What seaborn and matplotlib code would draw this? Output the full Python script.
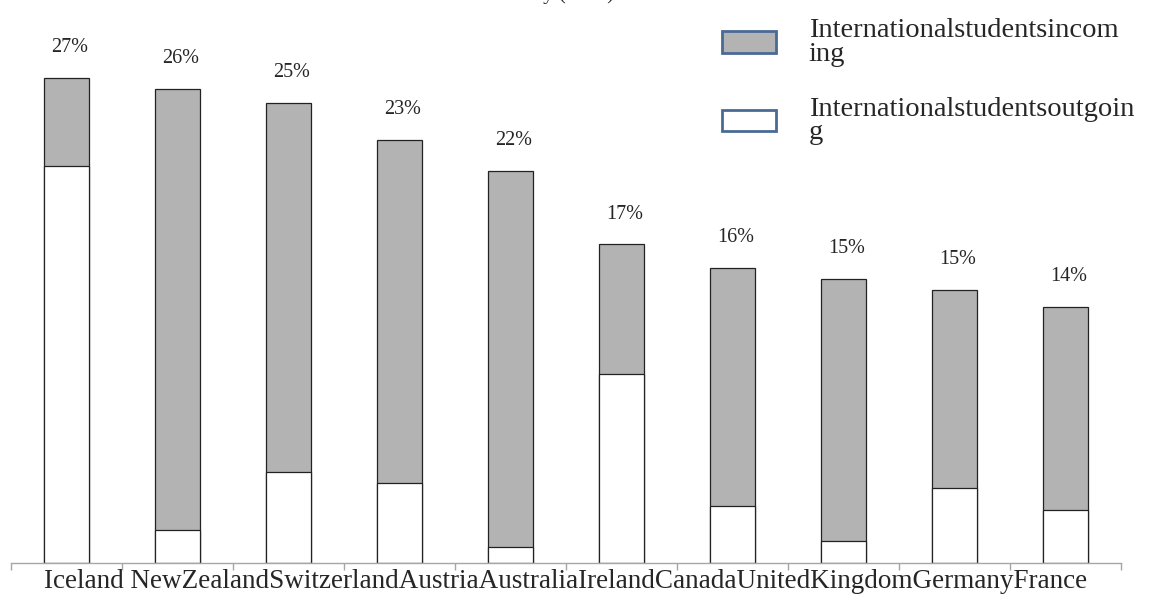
import numpy as np
import pandas as pd
import matplotlib
matplotlib.use("Agg")
import matplotlib.pyplot as plt
from matplotlib.patches import Patch
import seaborn as sns

# values (share of students, %)
categories = ["Iceland", "NewZealand", "Switzerland", "Austria", "Australia",
              "Ireland", "Canada", "UnitedKingdom", "Germany", "France"]
outgoing = [21.7, 1.8, 5.0, 4.4, 0.9, 10.3, 3.1, 1.2, 4.1, 2.9]
incoming = [4.8, 24.1, 20.1, 18.7, 20.5, 7.1, 13.0, 14.3, 10.8, 11.1]
total_labels = ["27%", "26%", "25%", "23%", "22%", "17%", "16%", "15%", "15%", "14%"]
series_names = ["Internationalstudentsincom\ning", "Internationalstudentsoutgoin\ng"]
title_text = "Country (2012)"

df = pd.DataFrame({"country": categories, "outgoing": outgoing, "incoming": incoming})
df["total"] = df["outgoing"] + df["incoming"]

sns.set_style("white")
plt.rcParams["font.family"] = ["Liberation Serif", "DejaVu Serif"]

W, H = 1157, 595
fig = plt.figure(figsize=(W / 100, H / 100), dpi=100)
ax = fig.add_axes([11 / W, 31.7 / H, 1110 / W, 563.3 / H])

gray = "#b3b3b3"
sns.barplot(data=df, x="country", y="total", color=gray, width=0.41,
            edgecolor="#222222", linewidth=0.9, saturation=1, ax=ax)
sns.barplot(data=df, x="country", y="outgoing", color="white", width=0.41,
            edgecolor="#222222", linewidth=0.9, saturation=1, ax=ax)

ax.set_xlim(-0.5, len(categories) - 0.5)
ax.set_ylim(0, 30.73)

# percentage labels above each bar
for i, (t, lab) in enumerate(zip(df["total"], total_labels)):
    ax.text(i + 0.03, t + 1.65, lab, ha="center", va="center", fontsize=14.5)

# axis styling: only bottom line, ticks between categories
for s in ["top", "right", "left"]:
    ax.spines[s].set_visible(False)
ax.spines["bottom"].set_color("#a6a6a6")
ax.spines["bottom"].set_linewidth(1.0)
ax.set_yticks([])
ax.set_xticks(np.arange(-0.5, len(categories), 1))
ax.set_xticklabels([])
ax.tick_params(axis="x", bottom=True, length=5, width=1, color="#a6a6a6")
ax.set_xlabel("")
ax.set_ylabel("")

# category names run together under the axis, as in the original
names_line = categories[0] + " " + "".join(categories[1:])
ax.text(0.5, -18 / 563.3, names_line, transform=ax.transAxes,
        ha="center", va="center", fontsize=19.5)

# title mostly cut off at the top edge
fig.text(485 / W, 1 + 0.5 / H, title_text, ha="left", va="baseline", fontsize=15)

handles = [Patch(facecolor=gray, edgecolor="#4a6a96", linewidth=2),
           Patch(facecolor="white", edgecolor="#4a6a96", linewidth=2)]
leg = fig.legend(handles, series_names, loc="upper left",
                 bbox_to_anchor=(722 / W, 1 - 18 / H), frameon=False,
                 fontsize=20.5, handlelength=1.9, handleheight=0.78,
                 handletextpad=1.15, labelspacing=1.05, borderpad=0, borderaxespad=0)
for t in leg.get_texts():
    t.set_linespacing(0.93)

fig.savefig("out.png", dpi=100)
